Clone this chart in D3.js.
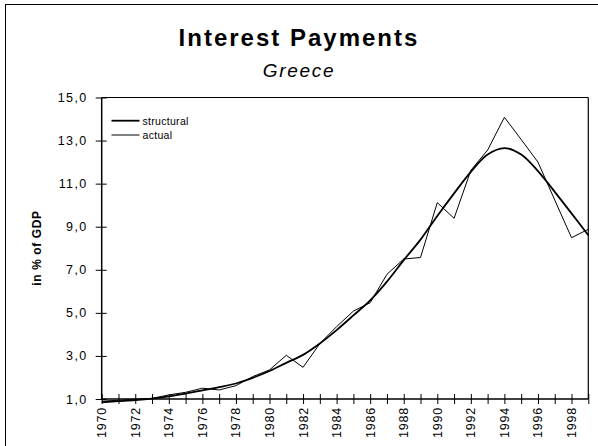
<!DOCTYPE html>
<html><head><meta charset="utf-8">
<script src="https://cdn.jsdelivr.net/npm/d3@7"></script>
<style>
html,body{margin:0;padding:0;background:#fff;}
svg{display:block;font-family:"Liberation Sans",Arial,sans-serif;}
</style></head>
<body><svg id="c" width="598" height="446"></svg>
<script>
const years = d3.range(1970, 2000);
const structural = [0.85,0.9,0.95,1.02,1.12,1.25,1.4,1.55,1.72,1.98,2.3,2.68,3.05,3.58,4.2,4.88,5.58,6.45,7.45,8.4,9.5,10.55,11.55,12.35,12.65,12.35,11.58,10.62,9.62,8.6];
const actual = [0.9,0.94,0.99,1.03,1.19,1.31,1.5,1.42,1.62,2.04,2.35,3.03,2.47,3.57,4.36,5.08,5.47,6.79,7.5,7.57,10.12,9.39,11.62,12.56,14.08,13.05,12.0,10.24,8.49,8.88];
const yTicks = [1,3,5,7,9,11,13,15];
const xLabelYears = d3.range(1970, 2000, 2);
const titleText = "Interest Payments";
const subtitleText = "Greece";
const yAxisTitle = "in % of GDP";
const legendLabels = ["structural", "actual"];

const svg = d3.select("#c");
const L = 101.7, R = 588.3, T = 97.5, B = 399;
const x = d3.scaleLinear().domain([1970, 1999]).range([L, R]);
const y = d3.scaleLinear().domain([1, 15]).range([B, T]);

// outer border
svg.append("rect").attr("x",5.5).attr("y",4.5).attr("width",620).attr("height",460)
  .attr("fill","none").attr("stroke","#000").attr("stroke-width",1);

// titles
svg.append("text").attr("x",299).attr("y",46).attr("text-anchor","middle")
  .attr("font-size",24).attr("font-weight","bold").attr("letter-spacing",2).text(titleText);
svg.append("text").attr("x",299).attr("y",77).attr("text-anchor","middle")
  .attr("font-size",19).attr("font-style","italic").attr("letter-spacing",1.7).text(subtitleText);

// plot frame (top and right)
svg.append("line").attr("x1",L).attr("x2",R).attr("y1",T).attr("y2",T).attr("stroke","#000").attr("stroke-width",1.2);
svg.append("line").attr("x1",R).attr("x2",R).attr("y1",T).attr("y2",B).attr("stroke","#000").attr("stroke-width",1.2);

// y axis
const yAxis = d3.axisLeft(y).tickValues(yTicks).tickSize(0).tickPadding(0)
  .tickFormat(d => d3.format(".1f")(d).replace(".", ","));
const gy = svg.append("g").attr("transform",`translate(${L},0)`).call(yAxis);
gy.select(".domain").remove();
gy.selectAll("text").attr("x",-14).attr("font-size",12.5).attr("letter-spacing",1.4)
  .attr("fill","#000").attr("font-family","Liberation Sans, Arial, sans-serif");
gy.selectAll(".tick").append("line").attr("x1",-6).attr("x2",5).attr("stroke","#000");
svg.append("line").attr("x1",L).attr("x2",L).attr("y1",T).attr("y2",B).attr("stroke","#000").attr("stroke-width",1.5);

// x axis
const xAxis = d3.axisBottom(x).tickValues(years).tickSize(0).tickFormat("");
const gx = svg.append("g").attr("transform",`translate(0,${B})`).call(xAxis);
gx.select(".domain").remove();
gx.selectAll(".tick").append("line").attr("y1",-5).attr("y2",5).attr("stroke","#000");
svg.append("line").attr("x1",L).attr("x2",R).attr("y1",B).attr("y2",B).attr("stroke","#000").attr("stroke-width",1.5);
svg.append("g").selectAll("text").data(xLabelYears).join("text")
  .attr("transform", d => `translate(${x(d)+4.5},407) rotate(-90)`)
  .attr("text-anchor","end").attr("font-size",12.5).attr("letter-spacing",0.8).text(d => d);

// y axis title
svg.append("text").attr("transform","translate(41,248) rotate(-90)").attr("text-anchor","middle")
  .attr("font-size",12).attr("font-weight","bold").attr("letter-spacing",0.6).text(yAxisTitle);

// lines
const lineS = d3.line().x((d,i)=>x(years[i])).y(d=>y(d)).curve(d3.curveCatmullRom.alpha(0.5));
const lineA = d3.line().x((d,i)=>x(years[i])).y(d=>y(d));
svg.append("path").datum(actual).attr("d",lineA).attr("fill","none").attr("stroke","#000").attr("stroke-width",1);
svg.append("path").datum(structural).attr("d",lineS).attr("fill","none").attr("stroke","#000").attr("stroke-width",1.8);

// legend
const lg = svg.append("g");
const lw = [1.8,1], ly = [120.7,135];
legendLabels.forEach((t,i)=>{
  lg.append("line").attr("x1",111.5).attr("x2",139.5).attr("y1",ly[i]).attr("y2",ly[i]).attr("stroke","#000").attr("stroke-width",lw[i]);
  lg.append("text").attr("x",142.5).attr("y",ly[i]+3.8).attr("font-size",10.5).attr("letter-spacing",0.3).text(t);
});
</script></body></html>
